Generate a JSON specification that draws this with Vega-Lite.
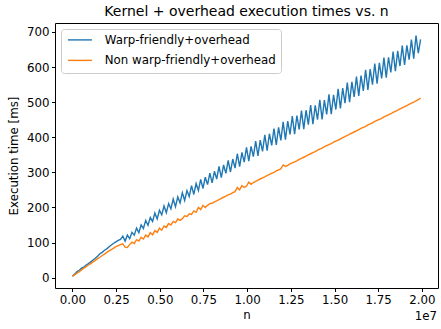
{
  "$schema": "https://vega.github.io/schema/vega-lite/v6.json",
  "width": 383,
  "height": 265,
  "autosize": {"type": "none"},
  "padding": {"left": 55, "top": 23, "right": 3, "bottom": 41},
  "title": {
    "text": "Kernel + overhead execution times vs. n",
    "font": "DejaVu Sans",
    "fontSize": 14,
    "fontWeight": "normal",
    "color": "#000000",
    "anchor": "middle",
    "offset": 4
  },
  "config": {
    "font": "DejaVu Sans",
    "view": {"stroke": "#000000", "strokeWidth": 1},
    "axis": {
      "domain": false,
      "grid": false,
      "labelFont": "DejaVu Sans",
      "labelFontSize": 11.8,
      "labelColor": "#000000",
      "labelOverlap": false,
      "tickColor": "#000000",
      "tickSize": 3.5,
      "tickWidth": 1,
      "labelPadding": 2.5,
      "titleFont": "DejaVu Sans",
      "titleFontSize": 11.8,
      "titleFontWeight": "normal",
      "titleColor": "#000000"
    },
    "legend": {
      "orient": "top-left",
      "offset": 6,
      "padding": 5,
      "rowPadding": 7.5,
      "strokeColor": "#cccccc",
      "fillColor": "#ffffff",
      "cornerRadius": 3,
      "labelFont": "DejaVu Sans",
      "labelFontSize": 11.8,
      "labelColor": "#000000",
      "labelLimit": 400,
      "symbolType": "M-4,0H4",
      "symbolSize": 36,
      "symbolStrokeWidth": 1.4,
      "symbolOffset": 8,
      "labelOffset": 19
    }
  },
  "data": {
    "values": [
      {"n": 0, "warp": 4, "nonwarp": 4},
      {"n": 131072, "warp": 10, "nonwarp": 8},
      {"n": 262144, "warp": 17, "nonwarp": 13},
      {"n": 393216, "warp": 21, "nonwarp": 17},
      {"n": 524288, "warp": 27, "nonwarp": 22},
      {"n": 655360, "warp": 30, "nonwarp": 27},
      {"n": 786432, "warp": 36, "nonwarp": 31},
      {"n": 917504, "warp": 40, "nonwarp": 36},
      {"n": 1048576, "warp": 45, "nonwarp": 40},
      {"n": 1179648, "warp": 50, "nonwarp": 45},
      {"n": 1310720, "warp": 55, "nonwarp": 49},
      {"n": 1441792, "warp": 61, "nonwarp": 54},
      {"n": 1572864, "warp": 68, "nonwarp": 58},
      {"n": 1703936, "warp": 72, "nonwarp": 63},
      {"n": 1835008, "warp": 78, "nonwarp": 67},
      {"n": 1966080, "warp": 82, "nonwarp": 72},
      {"n": 2097152, "warp": 88, "nonwarp": 76},
      {"n": 2228224, "warp": 93, "nonwarp": 80},
      {"n": 2359296, "warp": 98, "nonwarp": 84},
      {"n": 2490368, "warp": 102, "nonwarp": 88},
      {"n": 2621440, "warp": 106, "nonwarp": 91},
      {"n": 2752512, "warp": 109, "nonwarp": 94},
      {"n": 2883584, "warp": 118, "nonwarp": 96},
      {"n": 3014656, "warp": 104, "nonwarp": 87},
      {"n": 3145728, "warp": 121, "nonwarp": 86},
      {"n": 3276800, "warp": 111, "nonwarp": 94},
      {"n": 3407872, "warp": 129, "nonwarp": 101},
      {"n": 3538944, "warp": 121, "nonwarp": 97},
      {"n": 3670016, "warp": 141, "nonwarp": 108},
      {"n": 3801088, "warp": 128, "nonwarp": 104},
      {"n": 3932160, "warp": 150, "nonwarp": 115},
      {"n": 4063232, "warp": 140, "nonwarp": 110},
      {"n": 4194304, "warp": 163, "nonwarp": 121},
      {"n": 4325376, "warp": 149, "nonwarp": 116},
      {"n": 4456448, "warp": 171, "nonwarp": 128},
      {"n": 4587520, "warp": 160, "nonwarp": 122},
      {"n": 4718592, "warp": 184, "nonwarp": 134},
      {"n": 4849664, "warp": 167, "nonwarp": 129},
      {"n": 4980736, "warp": 192, "nonwarp": 141},
      {"n": 5111808, "warp": 179, "nonwarp": 135},
      {"n": 5242880, "warp": 204, "nonwarp": 147},
      {"n": 5373952, "warp": 185, "nonwarp": 143},
      {"n": 5505024, "warp": 211, "nonwarp": 154},
      {"n": 5636096, "warp": 196, "nonwarp": 150},
      {"n": 5767168, "warp": 224, "nonwarp": 160},
      {"n": 5898240, "warp": 202, "nonwarp": 157},
      {"n": 6029312, "warp": 230, "nonwarp": 167},
      {"n": 6160384, "warp": 213, "nonwarp": 163},
      {"n": 6291456, "warp": 242, "nonwarp": 168},
      {"n": 6422528, "warp": 220, "nonwarp": 176},
      {"n": 6553600, "warp": 248, "nonwarp": 174},
      {"n": 6684672, "warp": 231, "nonwarp": 182},
      {"n": 6815744, "warp": 262, "nonwarp": 180},
      {"n": 6946816, "warp": 237, "nonwarp": 190},
      {"n": 7077888, "warp": 268, "nonwarp": 186},
      {"n": 7208960, "warp": 248, "nonwarp": 200},
      {"n": 7340032, "warp": 280, "nonwarp": 194},
      {"n": 7471104, "warp": 254, "nonwarp": 206},
      {"n": 7602176, "warp": 286, "nonwarp": 200},
      {"n": 7733248, "warp": 265, "nonwarp": 206},
      {"n": 7864320, "warp": 298, "nonwarp": 211},
      {"n": 7995392, "warp": 270, "nonwarp": 212},
      {"n": 8126464, "warp": 303, "nonwarp": 216},
      {"n": 8257536, "warp": 281, "nonwarp": 219},
      {"n": 8388608, "warp": 317, "nonwarp": 222},
      {"n": 8519680, "warp": 285, "nonwarp": 226},
      {"n": 8650752, "warp": 321, "nonwarp": 229},
      {"n": 8781824, "warp": 297, "nonwarp": 232},
      {"n": 8912896, "warp": 334, "nonwarp": 236},
      {"n": 9043968, "warp": 301, "nonwarp": 238},
      {"n": 9175040, "warp": 338, "nonwarp": 242},
      {"n": 9306112, "warp": 312, "nonwarp": 245},
      {"n": 9437184, "warp": 353, "nonwarp": 257},
      {"n": 9568256, "warp": 316, "nonwarp": 250},
      {"n": 9699328, "warp": 357, "nonwarp": 262},
      {"n": 9830400, "warp": 329, "nonwarp": 257},
      {"n": 9961472, "warp": 371, "nonwarp": 261},
      {"n": 10092544, "warp": 332, "nonwarp": 272},
      {"n": 10223616, "warp": 374, "nonwarp": 266},
      {"n": 10354688, "warp": 345, "nonwarp": 271},
      {"n": 10485760, "warp": 389, "nonwarp": 274},
      {"n": 10616832, "warp": 347, "nonwarp": 278},
      {"n": 10747904, "warp": 392, "nonwarp": 281},
      {"n": 10878976, "warp": 360, "nonwarp": 284},
      {"n": 11010048, "warp": 407, "nonwarp": 287},
      {"n": 11141120, "warp": 362, "nonwarp": 291},
      {"n": 11272192, "warp": 410, "nonwarp": 294},
      {"n": 11403264, "warp": 377, "nonwarp": 297},
      {"n": 11534336, "warp": 425, "nonwarp": 300},
      {"n": 11665408, "warp": 378, "nonwarp": 304},
      {"n": 11796480, "warp": 428, "nonwarp": 307},
      {"n": 11927552, "warp": 391, "nonwarp": 310},
      {"n": 12058624, "warp": 444, "nonwarp": 321},
      {"n": 12189696, "warp": 393, "nonwarp": 317},
      {"n": 12320768, "warp": 446, "nonwarp": 320},
      {"n": 12451840, "warp": 408, "nonwarp": 324},
      {"n": 12582912, "warp": 460, "nonwarp": 327},
      {"n": 12713984, "warp": 409, "nonwarp": 330},
      {"n": 12845056, "warp": 462, "nonwarp": 333},
      {"n": 12976128, "warp": 422, "nonwarp": 337},
      {"n": 13107200, "warp": 476, "nonwarp": 340},
      {"n": 13238272, "warp": 423, "nonwarp": 343},
      {"n": 13369344, "warp": 477, "nonwarp": 346},
      {"n": 13500416, "warp": 436, "nonwarp": 350},
      {"n": 13631488, "warp": 492, "nonwarp": 353},
      {"n": 13762560, "warp": 437, "nonwarp": 356},
      {"n": 13893632, "warp": 491, "nonwarp": 359},
      {"n": 14024704, "warp": 450, "nonwarp": 363},
      {"n": 14155776, "warp": 507, "nonwarp": 366},
      {"n": 14286848, "warp": 451, "nonwarp": 369},
      {"n": 14417920, "warp": 506, "nonwarp": 373},
      {"n": 14548992, "warp": 465, "nonwarp": 376},
      {"n": 14680064, "warp": 522, "nonwarp": 379},
      {"n": 14811136, "warp": 466, "nonwarp": 382},
      {"n": 14942208, "warp": 521, "nonwarp": 386},
      {"n": 15073280, "warp": 479, "nonwarp": 389},
      {"n": 15204352, "warp": 538, "nonwarp": 392},
      {"n": 15335424, "warp": 482, "nonwarp": 395},
      {"n": 15466496, "warp": 540, "nonwarp": 399},
      {"n": 15597568, "warp": 497, "nonwarp": 402},
      {"n": 15728640, "warp": 556, "nonwarp": 405},
      {"n": 15859712, "warp": 500, "nonwarp": 409},
      {"n": 15990784, "warp": 558, "nonwarp": 412},
      {"n": 16121856, "warp": 515, "nonwarp": 415},
      {"n": 16252928, "warp": 573, "nonwarp": 418},
      {"n": 16384000, "warp": 518, "nonwarp": 422},
      {"n": 16515072, "warp": 576, "nonwarp": 425},
      {"n": 16646144, "warp": 532, "nonwarp": 428},
      {"n": 16777216, "warp": 592, "nonwarp": 431},
      {"n": 16908288, "warp": 535, "nonwarp": 435},
      {"n": 17039360, "warp": 594, "nonwarp": 438},
      {"n": 17170432, "warp": 550, "nonwarp": 441},
      {"n": 17301504, "warp": 610, "nonwarp": 445},
      {"n": 17432576, "warp": 553, "nonwarp": 448},
      {"n": 17563648, "warp": 612, "nonwarp": 451},
      {"n": 17694720, "warp": 568, "nonwarp": 454},
      {"n": 17825792, "warp": 627, "nonwarp": 458},
      {"n": 17956864, "warp": 570, "nonwarp": 461},
      {"n": 18087936, "warp": 628, "nonwarp": 464},
      {"n": 18219008, "warp": 585, "nonwarp": 467},
      {"n": 18350080, "warp": 644, "nonwarp": 471},
      {"n": 18481152, "warp": 588, "nonwarp": 474},
      {"n": 18612224, "warp": 646, "nonwarp": 477},
      {"n": 18743296, "warp": 603, "nonwarp": 481},
      {"n": 18874368, "warp": 661, "nonwarp": 484},
      {"n": 19005440, "warp": 606, "nonwarp": 487},
      {"n": 19136512, "warp": 662, "nonwarp": 490},
      {"n": 19267584, "warp": 621, "nonwarp": 494},
      {"n": 19398656, "warp": 678, "nonwarp": 497},
      {"n": 19529728, "warp": 624, "nonwarp": 500},
      {"n": 19660800, "warp": 690, "nonwarp": 504},
      {"n": 19791872, "warp": 640, "nonwarp": 507},
      {"n": 19922944, "warp": 679, "nonwarp": 512}
    ]
  },
  "layer": [
    {
      "mark": {"type": "line", "strokeWidth": 1.4, "clip": true},
      "encoding": {
        "x": {
          "field": "n",
          "type": "quantitative",
          "scale": {"domain": [-996147, 20919091], "nice": false, "zero": false},
          "axis": {
            "title": "n",
            "values": [0, 2500000, 5000000, 7500000, 10000000, 12500000, 15000000, 17500000, 20000000],
            "tickCount": 12,
            "labelExpr": "format(datum.value / 10000000, '.2f')",
            "titlePadding": 4
          }
        },
        "y": {
          "field": "warp",
          "type": "quantitative",
          "scale": {"domain": [-29.6, 725.6], "nice": false, "zero": false},
          "axis": {
            "title": "Execution time [ms]",
            "values": [0, 100, 200, 300, 400, 500, 600, 700],
            "tickCount": 10,
            "titlePadding": 7
          }
        },
        "color": {
          "datum": "Warp-friendly+overhead",
          "scale": {
            "domain": ["Warp-friendly+overhead", "Non warp-friendly+overhead"],
            "range": ["#1f77b4", "#ff7f0e"]
          },
          "legend": {"title": null}
        }
      }
    },
    {
      "mark": {"type": "line", "strokeWidth": 1.4, "clip": true},
      "encoding": {
        "x": {"field": "n", "type": "quantitative"},
        "y": {"field": "nonwarp", "type": "quantitative"},
        "color": {"datum": "Non warp-friendly+overhead"}
      }
    },
    {
      "data": {"values": [{"label": "1e7", "n": 20919091, "t": -29.6}]},
      "mark": {
        "type": "text",
        "align": "right",
        "baseline": "top",
        "font": "DejaVu Sans",
        "fontSize": 11.8,
        "fontWeight": "normal",
        "color": "#000000",
        "dy": 23,
        "dx": -1
      },
      "encoding": {
        "x": {"field": "n", "type": "quantitative"},
        "y": {"field": "t", "type": "quantitative"},
        "text": {"field": "label"}
      }
    }
  ]
}
